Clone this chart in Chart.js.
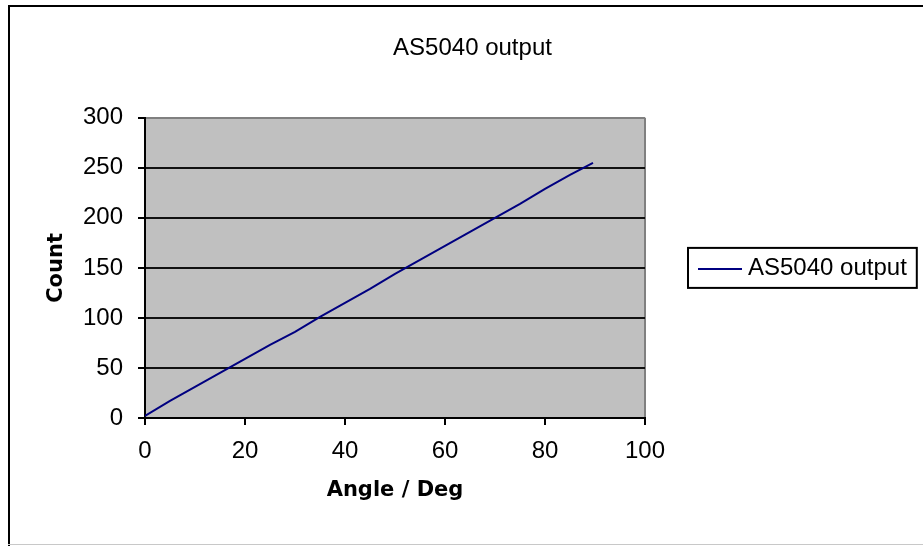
<!DOCTYPE html>
<html>
<head>
<meta charset="utf-8">
<script src="https://cdn.jsdelivr.net/npm/chart.js@4/dist/chart.umd.min.js"></script>
<style>
  body { margin: 0; background: #fff; }
  #wrap { width: 923px; height: 546px; }
</style>
</head>
<body>
<div id="wrap"><canvas id="chart"></canvas></div>
<script>
// data
const angles = [0, 5, 10, 15, 20, 25, 30, 35, 40, 45, 50, 55, 60, 65, 70, 75, 80, 85, 89.6];
const counts = [2, 17, 31, 45, 59, 73, 86, 101, 115, 129, 144, 158, 172, 186, 200, 214, 229, 243, 255];
const xTicks = [0, 20, 40, 60, 80, 100];
const yTicks = [0, 50, 100, 150, 200, 250, 300];
const seriesName = 'AS5040 output';

const tickFont = { family: 'Liberation Sans', size: 24 };
const boldFont = { family: 'DejaVu Sans', size: 21, weight: 'bold' };

// frame, gray plot area, legend box (the built-in legend can't get wide enough on the right)
const decor = {
    id: 'decor',
    beforeDraw(chart) {
        const c = chart.ctx, a = chart.chartArea;
        c.save();
        c.fillStyle = '#fff';
        c.fillRect(0, 0, chart.width, chart.height);
        c.fillStyle = '#000';
        c.fillRect(8, 5, chart.width - 8, 2);
        c.fillRect(8, 5, 2, chart.height - 5);
        c.fillStyle = '#c8c8c8';
        c.fillRect(8, chart.height - 2, chart.width - 8, 1);
        c.fillStyle = '#c0c0c0';
        c.fillRect(a.left, a.top, a.right - a.left, a.bottom - a.top);
        c.restore();
    },
    afterDraw(chart) {
        const c = chart.ctx, a = chart.chartArea;
        const ds = chart.data.datasets[0];
        const left = a.right + 43;
        const cy = (a.top + a.bottom) / 2;
        c.save();
        c.font = '24px "Liberation Sans"';
        const tw = c.measureText(ds.label).width;
        c.strokeStyle = '#000';
        c.lineWidth = 2;
        c.strokeRect(left, cy - 20, 60 + tw + 10, 40);
        c.strokeStyle = ds.borderColor;
        c.lineWidth = ds.borderWidth;
        c.beginPath();
        c.moveTo(left + 10, cy + 1);
        c.lineTo(left + 54, cy + 1);
        c.stroke();
        c.fillStyle = '#000';
        c.textBaseline = 'middle';
        c.fillText(ds.label, left + 60, cy);
        c.restore();
    }
};

const points = angles.map((a, i) => ({ x: a, y: counts[i] }));

new Chart(document.getElementById('chart'), {
    type: 'line',
    data: {
        datasets: [{
            label: seriesName,
            data: points,
            borderColor: '#000080',
            backgroundColor: '#000080',
            borderWidth: 2,
            pointRadius: 0,
            tension: 0
        }]
    },
    options: {
        responsive: true,
        maintainAspectRatio: false,
        animation: false,
        layout: { padding: { left: 40, right: 18, top: 10, bottom: 43 } },
        plugins: {
            title: {
                display: true,
                text: seriesName,
                color: '#000',
                font: { family: 'Liberation Sans', size: 24, weight: 'normal' },
                padding: { top: 24, bottom: 55 }
            },
            legend: { display: false },
            tooltip: { enabled: false }
        },
        scales: {
            x: {
                type: 'linear',
                min: 0,
                max: 100,
                afterBuildTicks: s => { s.ticks = xTicks.map(v => ({ value: v })); },
                afterFit: s => { s.height = 85; },
                ticks: { color: '#000', font: tickFont, padding: 12 },
                grid: {
                    color: ctx => ctx.tick && ctx.tick.value === 100 ? '#808080' : 'rgba(0,0,0,0)',
                    lineWidth: 2,
                    tickColor: '#000',
                    tickLength: 7
                },
                border: { color: '#000', width: 2 },
                title: { display: true, text: 'Angle / Deg', color: '#000', font: boldFont, padding: { top: 5, bottom: 0 } }
            },
            y: {
                min: 0,
                max: 300,
                afterBuildTicks: s => { s.ticks = yTicks.map(v => ({ value: v })); },
                afterFit: s => { s.width = 105; },
                ticks: { color: '#000', font: tickFont, padding: 15 },
                grid: {
                    color: ctx => ctx.tick && ctx.tick.value === 300 ? '#808080' : '#111',
                    lineWidth: 2,
                    tickColor: '#000',
                    tickLength: 7
                },
                border: { color: '#000', width: 2 },
                title: { display: true, text: 'Count', color: '#000', font: boldFont, padding: { top: 4, bottom: 0 } }
            },
            // empty axis that keeps the space on the right for the legend box
            side: {
                position: 'right',
                min: 0,
                max: 1,
                afterFit: s => { s.width = 260; },
                ticks: { display: false },
                grid: { display: false },
                border: { display: false }
            }
        }
    },
    plugins: [decor]
});
</script>
</body>
</html>
